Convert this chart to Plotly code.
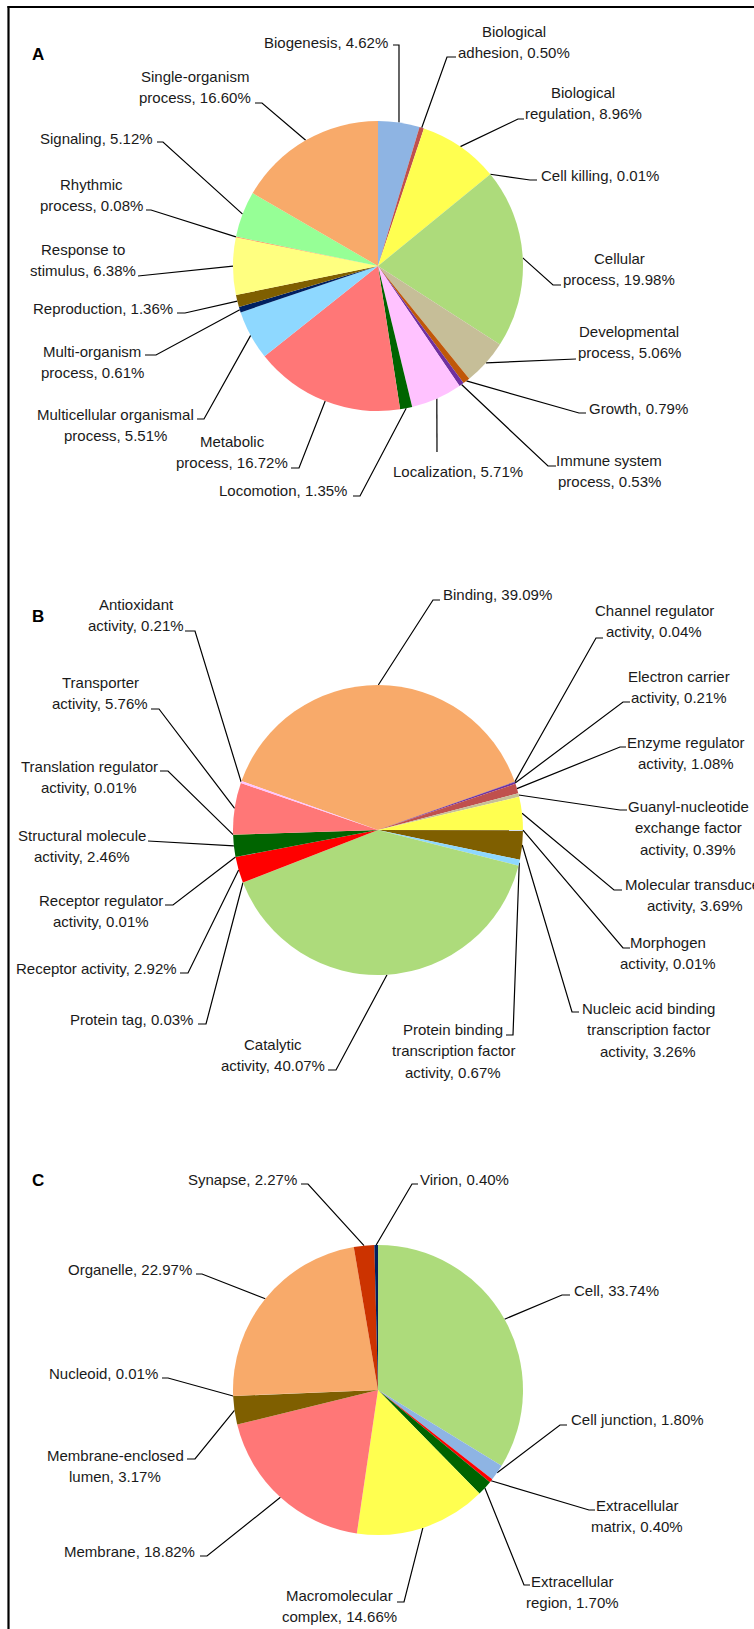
import math
import plotly.graph_objects as go

W, H = 754, 1629

# ---------------- A: biological process ----------------
bp_names = [
    "Biogenesis", "Biological adhesion", "Biological regulation", "Cell killing",
    "Cellular process", "Developmental process", "Growth", "Immune system process",
    "Localization", "Locomotion", "Metabolic process", "Multicellular organismal process",
    "Multi-organism process", "Reproduction", "Response to stimulus", "Rhythmic process",
    "Signaling", "Single-organism process",
]
bp_values = [4.62, 0.50, 8.96, 0.01, 19.98, 5.06, 0.79, 0.53, 5.71, 1.35, 16.72,
             5.51, 0.61, 1.36, 6.38, 0.08, 5.12, 16.60]
bp_colors = ["#8EB4E3", "#C0504D", "#FFFF50", "#4F81BD", "#ADDB7B", "#C6BE98", "#C0580A",
             "#7030A0", "#FFC2FF", "#006400", "#FF7777", "#8ED8FF", "#002060", "#7F5F00",
             "#FFFF80", "#FF8040", "#96FF96", "#F8AA6A"]

# ---------------- B: molecular function ----------------
mf_names = [
    "Binding", "Channel regulator activity", "Electron carrier activity",
    "Enzyme regulator activity", "Guanyl-nucleotide exchange factor activity",
    "Molecular transducer activity", "Morphogen activity",
    "Nucleic acid binding transcription factor activity",
    "Protein binding transcription factor activity", "Catalytic activity", "Protein tag",
    "Receptor activity", "Receptor regulator activity", "Structural molecule activity",
    "Translation regulator activity", "Transporter activity", "Antioxidant activity",
]
mf_values = [39.09, 0.04, 0.21, 1.08, 0.39, 3.69, 0.01, 3.26, 0.67, 40.07, 0.03,
             2.92, 0.01, 2.46, 0.01, 5.76, 0.21]
mf_colors = ["#F8AA6A", "#2E3A9E", "#7030A0", "#C0504D", "#C6BE98", "#FFFF50", "#4F81BD",
             "#7F5F00", "#8ED8FF", "#ADDB7B", "#9BBB59", "#FF0000", "#4BACC6", "#006400",
             "#F79646", "#FF7777", "#FFC2FF"]

# ---------------- C: cellular component ----------------
cc_names = [
    "Cell", "Cell junction", "Extracellular matrix", "Extracellular region",
    "Macromolecular complex", "Membrane", "Membrane-enclosed lumen", "Nucleoid",
    "Organelle", "Synapse", "Virion",
]
cc_values = [33.74, 1.80, 0.40, 1.70, 14.66, 18.82, 3.17, 0.01, 22.97, 2.27, 0.40]
cc_colors = ["#ADDB7B", "#8EB4E3", "#FF0000", "#006400", "#FFFF50", "#FF7777", "#7F5F00",
             "#C6BE98", "#F8AA6A", "#CC3300", "#002060"]

# Label placement (pixels): words per line before the last line, anchor, text x,
# first-line y, leader elbow (ex, ey) and end of the short horizontal tick (tx)
bp_label_layout = [
    ([], "right", 390, 42, 399, 45, 393),
    ([1], "center", 514, 31, 447, 57, 456),
    ([1], "center", 583, 92, 518, 119, 524),
    ([], "left", 539, 175, 530, 180, 537),
    ([1], "center", 619, 258, 553, 285, 561),
    ([1], "center", 629, 331, 570, 359, 576),
    ([], "left", 587, 408, 579, 413, 586),
    ([2], "center", 609, 460, 548, 466, 556),
    ([], "center", 458, 471, 437, 452, 437),
    ([], "right", 349, 490, 360, 496, 353),
    ([1], "center", 232, 441, 299, 468, 291),
    ([2], "center", 115, 414, 204, 419, 197),
    ([1], "center", 92, 351, 156, 355, 145),
    ([], "right", 175, 308, 185, 313, 177),
    ([2], "center", 83, 249, 144, 276, 138),
    ([1], "center", 91, 184, 151, 210, 146),
    ([], "right", 155, 138, 163, 142, 157),
    ([1], "center", 195, 76, 262, 103, 255),
]
mf_label_layout = [
    ([], "left", 441, 594, 433, 600, 440),
    ([2], "center", 654, 610, 596, 638, 603),
    ([2], "center", 679, 676, 623, 702, 630),
    ([2], "center", 686, 742, 620, 747, 626),
    ([1, 2], "center", 688, 806, 620, 810, 627),
    ([2], "center", 695, 884, 614, 890, 622),
    ([1], "center", 668, 942, 623, 948, 630),
    ([3, 2], "center", 648, 1008, 572, 1012, 579),
    ([2, 2], "center", 453, 1029, 513, 1035, 506),
    ([1], "center", 273, 1044, 336, 1070, 328),
    ([], "right", 195, 1019, 206, 1024, 198),
    ([], "right", 179, 968, 188, 973, 180),
    ([2], "center", 101, 900, 173, 905, 165),
    ([2], "center", 82, 835, 155, 841, 148),
    ([2], "center", 89, 766, 168, 771, 160),
    ([1], "center", 100, 682, 159, 709, 151),
    ([1], "center", 136, 604, 195, 631, 185),
]
cc_label_layout = [
    ([], "left", 572, 1290, 562, 1295, 570),
    ([], "left", 569, 1419, 560, 1425, 567),
    ([1], "center", 637, 1505, 589, 1510, 595),
    ([1], "center", 572, 1581, 524, 1585, 530),
    ([1], "center", 339, 1595, 404, 1602, 397),
    ([], "right", 197, 1551, 207, 1556, 200),
    ([1], "center", 115, 1455, 195, 1459, 187),
    ([], "right", 160, 1373, 168, 1378, 162),
    ([], "right", 194, 1269, 202, 1274, 196),
    ([], "right", 299, 1179, 308, 1184, 301),
    ([], "left", 418, 1179, 412, 1184, 418),
]

PIE_R = 145
LINE_GAP = 21.5
FONT = "Liberation Sans, Arial, sans-serif"
TEXT_COLOR = "#1a1a1a"

panels = [
    dict(letter="A", names=bp_names, values=bp_values, colors=bp_colors,
         layout=bp_label_layout, center=(378, 266), rotation=0, letter_y=54),
    dict(letter="B", names=mf_names, values=mf_values, colors=mf_colors,
         layout=mf_label_layout, center=(378, 830), rotation=-70.3, letter_y=616),
    dict(letter="C", names=cc_names, values=cc_values, colors=cc_colors,
         layout=cc_label_layout, center=(378, 1390), rotation=0, letter_y=1180),
]


def label_lines(name, value, breaks):
    words = f"{name}, {value:.2f}%".split(" ")
    lines, i = [], 0
    for b in breaks:
        lines.append(" ".join(words[i:i + b]))
        i += b
    lines.append(" ".join(words[i:]))
    return lines


def slice_edge(cx, cy, rot, values, i):
    total = sum(values)
    frac = (sum(values[:i]) + values[i] / 2) / total
    ang = math.radians(rot + 360 * frac)
    return cx + PIE_R * math.sin(ang), cy - PIE_R * math.cos(ang)


fig = go.Figure()
annotations = []
lx, ly = [], []

for p in panels:
    cx, cy = p["center"]
    fig.add_trace(go.Pie(
        labels=p["names"], values=p["values"],
        marker=dict(colors=p["colors"], line=dict(width=0)),
        sort=False, direction="clockwise", rotation=p["rotation"],
        textinfo="none", showlegend=False, hoverinfo="label+percent",
        domain=dict(x=[(cx - PIE_R) / W, (cx + PIE_R) / W],
                    y=[1 - (cy + PIE_R) / H, 1 - (cy - PIE_R) / H]),
    ))
    annotations.append(dict(
        text=f"<b>{p['letter']}</b>", x=30, y=p["letter_y"], xref="x", yref="y",
        xanchor="left", yanchor="middle", showarrow=False,
        font=dict(family=FONT, size=17, color="#000000")))

    for i, (name, val) in enumerate(zip(p["names"], p["values"])):
        breaks, anchor, tx_, ty_, ex, ey, tk = p["layout"][i]
        sx, sy = slice_edge(cx, cy, p["rotation"], p["values"], i)
        lx += [sx, ex, tk, None]
        ly += [sy, ey, ey, None]
        for k, line in enumerate(label_lines(name, val, breaks)):
            annotations.append(dict(
                text=line, x=tx_, y=ty_ + k * LINE_GAP, xref="x", yref="y",
                xanchor=anchor, yanchor="middle", showarrow=False,
                font=dict(family=FONT, size=15, color=TEXT_COLOR)))

# leader lines
fig.add_trace(go.Scatter(x=lx, y=ly, mode="lines", hoverinfo="skip", showlegend=False,
                         line=dict(color="#000000", width=1.2)))

fig.update_layout(
    width=W, height=H, autosize=False,
    margin=dict(l=0, r=0, t=0, b=0),
    paper_bgcolor="#ffffff", plot_bgcolor="rgba(0,0,0,0)",
    xaxis=dict(range=[0, W], visible=False, fixedrange=True),
    yaxis=dict(range=[H, 0], visible=False, fixedrange=True),
    annotations=annotations,
    shapes=[
        dict(type="line", xref="x", yref="y", x0=8.5, x1=8.5, y0=6, y1=H,
             line=dict(color="#000000", width=2.2)),
        dict(type="line", xref="x", yref="y", x0=7.5, x1=W, y0=7, y1=7,
             line=dict(color="#000000", width=2.2)),
    ],
)

fig.write_html("out.html")
